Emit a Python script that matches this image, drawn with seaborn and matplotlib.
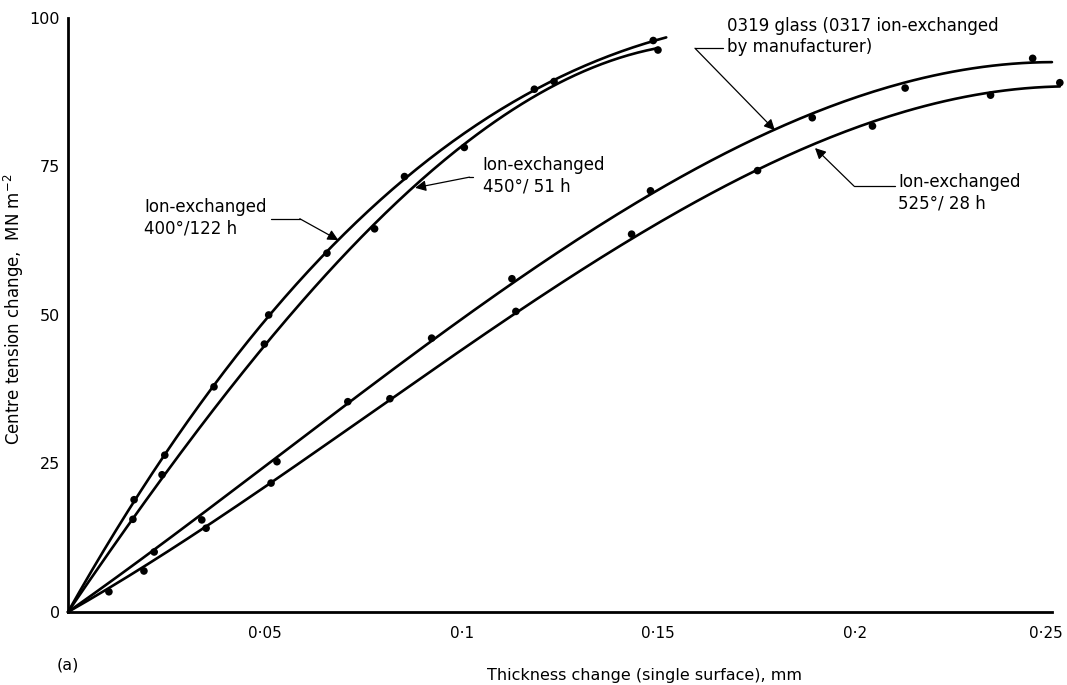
import numpy as np
import pandas as pd
import matplotlib
matplotlib.use("Agg")
import matplotlib.pyplot as plt
import matplotlib.transforms as mtransforms
import seaborn as sns

# === DATA ===
# Ion-exchanged 400 deg / 122 h
a_x = [0.0168, 0.0246, 0.0371, 0.0510, 0.0658, 0.0855, 0.1235, 0.1487]
a_y = [18.9, 26.4, 37.9, 50.0, 60.4, 73.3, 89.3, 96.2]
# Ion-exchanged 450 deg / 51 h
b_x = [0.0165, 0.0239, 0.0499, 0.0779, 0.1007, 0.1185, 0.1499]
b_y = [15.6, 23.1, 45.1, 64.5, 78.2, 88.0, 94.6]
# 0319 glass (0317 ion-exchanged by manufacturer)
c_x = [0.0219, 0.0340, 0.0531, 0.0711, 0.0924, 0.1128, 0.1480, 0.1891, 0.2127, 0.2451]
c_y = [10.1, 15.5, 25.3, 35.4, 46.1, 56.1, 70.9, 83.2, 88.2, 93.2]
# Ion-exchanged 525 deg / 28 h
d_x = [0.0104, 0.0193, 0.0351, 0.0516, 0.0818, 0.1138, 0.1432, 0.1752, 0.2044, 0.2344, 0.2520]
d_y = [3.4, 6.9, 14.1, 21.7, 35.9, 50.6, 63.6, 74.3, 81.8, 87.0, 89.1]

series_names = ["400/122", "450/51", "0319", "525/28"]
curve_end = [0.152, 0.150, 0.250, 0.252]   # where each drawn curve stops

x_ticks = [0.05, 0.1, 0.15, 0.2, 0.25]
x_ticklabels = ["0·05", "0·1", "0·15", "0·2", "0·25"]
y_ticks = [0, 25, 50, 75, 100]
y_ticklabels = ["0", "25", "50", "75", "100"]

# === BUILD TABLES ===
points = pd.concat([
    pd.DataFrame({"x": xs, "y": ys, "series": name})
    for name, xs, ys in zip(series_names, [a_x, b_x, c_x, d_x], [a_y, b_y, c_y, d_y])
], ignore_index=True)

# smooth fitted curve through the origin and the measured points (like the drawn fits)
curves = []
for name, end in zip(series_names, curve_end):
    sub = points[points["series"] == name]
    xs = np.r_[0.0, sub["x"].to_numpy()]
    ys = np.r_[0.0, sub["y"].to_numpy()]
    w = np.r_[20.0, np.ones(len(sub))]
    coef = np.polyfit(xs, ys, 3, w=w)
    gx = np.linspace(0, end, 200)
    curves.append(pd.DataFrame({"x": gx, "y": np.polyval(coef, gx), "series": name}))
curves = pd.concat(curves, ignore_index=True)

# === PLOT ===
sns.set_style("white")
plt.rcParams["font.family"] = ["DejaVu Sans"]
for k in ["text.color", "axes.labelcolor", "xtick.color", "ytick.color"]:
    plt.rcParams[k] = "black"
FS = 11.5
FA = 12

fig = plt.figure(figsize=(10.67, 6.85), dpi=100)
ax = fig.add_axes([0.0637, 0.1066, 0.9222, 0.8672])

pal = {n: "black" for n in series_names}
sns.lineplot(data=curves, x="x", y="y", hue="series", palette=pal, lw=1.9,
             legend=False, ax=ax, sort=False, estimator=None)
sns.scatterplot(data=points, x="x", y="y", hue="series", palette=pal, s=30,
                edgecolor="black", linewidth=0, legend=False, ax=ax, zorder=3)
for ln in ax.lines:
    ln.set_clip_on(False)
for col in ax.collections:
    col.set_clip_on(False)

ax.set_xlim(0, 0.25)
ax.set_ylim(0, 100)
ax.set_xticks(x_ticks)
ax.set_xticklabels(x_ticklabels, fontsize=11)
ax.set_yticks(y_ticks)
ax.set_yticklabels(y_ticklabels, fontsize=FS)
ax.tick_params(axis="both", direction="in", length=8, width=1.8, color="black")
ax.tick_params(axis="x", pad=10)
ax.tick_params(axis="y", pad=6)
sns.despine(ax=ax)
for s in ["left", "bottom"]:
    ax.spines[s].set_linewidth(2)
    ax.spines[s].set_color("black")

# nudge the last x tick label so it stays inside the figure
last = ax.get_xticklabels()[-1]
last.set_transform(last.get_transform() +
                   mtransforms.ScaledTranslation(-6 / 100, 0, fig.dpi_scale_trans))

ax.set_xlabel("Thickness change (single surface), mm", fontsize=FS)
ax.set_ylabel("Centre tension change,  MN m$^{-2}$", fontsize=FA)
ax.xaxis.set_label_coords(0.586, -0.094)
ax.yaxis.set_label_coords(-0.043, 0.51)
ax.text(0.0, -0.089, "(a)", transform=ax.transAxes, fontsize=FS, ha="center", va="center")

# === ANNOTATIONS ===
arrow = dict(arrowstyle="-|>", color="black", lw=0.9, mutation_scale=16,
             shrinkA=0, shrinkB=0)

def label(text, txy, lead, tip):
    ax.text(txy[0], txy[1], text, fontsize=FA, ha="left", va="center", linespacing=1.25)
    ax.plot([lead[0][0], lead[1][0]], [lead[0][1], lead[1][1]], color="black", lw=0.9)
    ax.annotate("", xy=tip, xytext=lead[1], arrowprops=arrow)

label("Ion-exchanged\n400°/122 h", (0.0193, 66.3),
      ((0.0515, 66.2), (0.0589, 66.2)), (0.0687, 62.6))
label("Ion-exchanged\n450°/ 51 h", (0.1054, 73.5),
      ((0.1029, 73.2), (0.1020, 73.2)), (0.0882, 71.4))
label("0319 glass (0317 ion-exchanged\nby manufacturer)", (0.1674, 96.9),
      ((0.1664, 94.9), (0.1593, 94.9)), (0.1796, 81.1))
label("Ion-exchanged\n525°/ 28 h", (0.2109, 70.5),
      ((0.2101, 71.7), (0.1997, 71.7)), (0.1898, 78.1))

fig.savefig("out.png", dpi=100)
